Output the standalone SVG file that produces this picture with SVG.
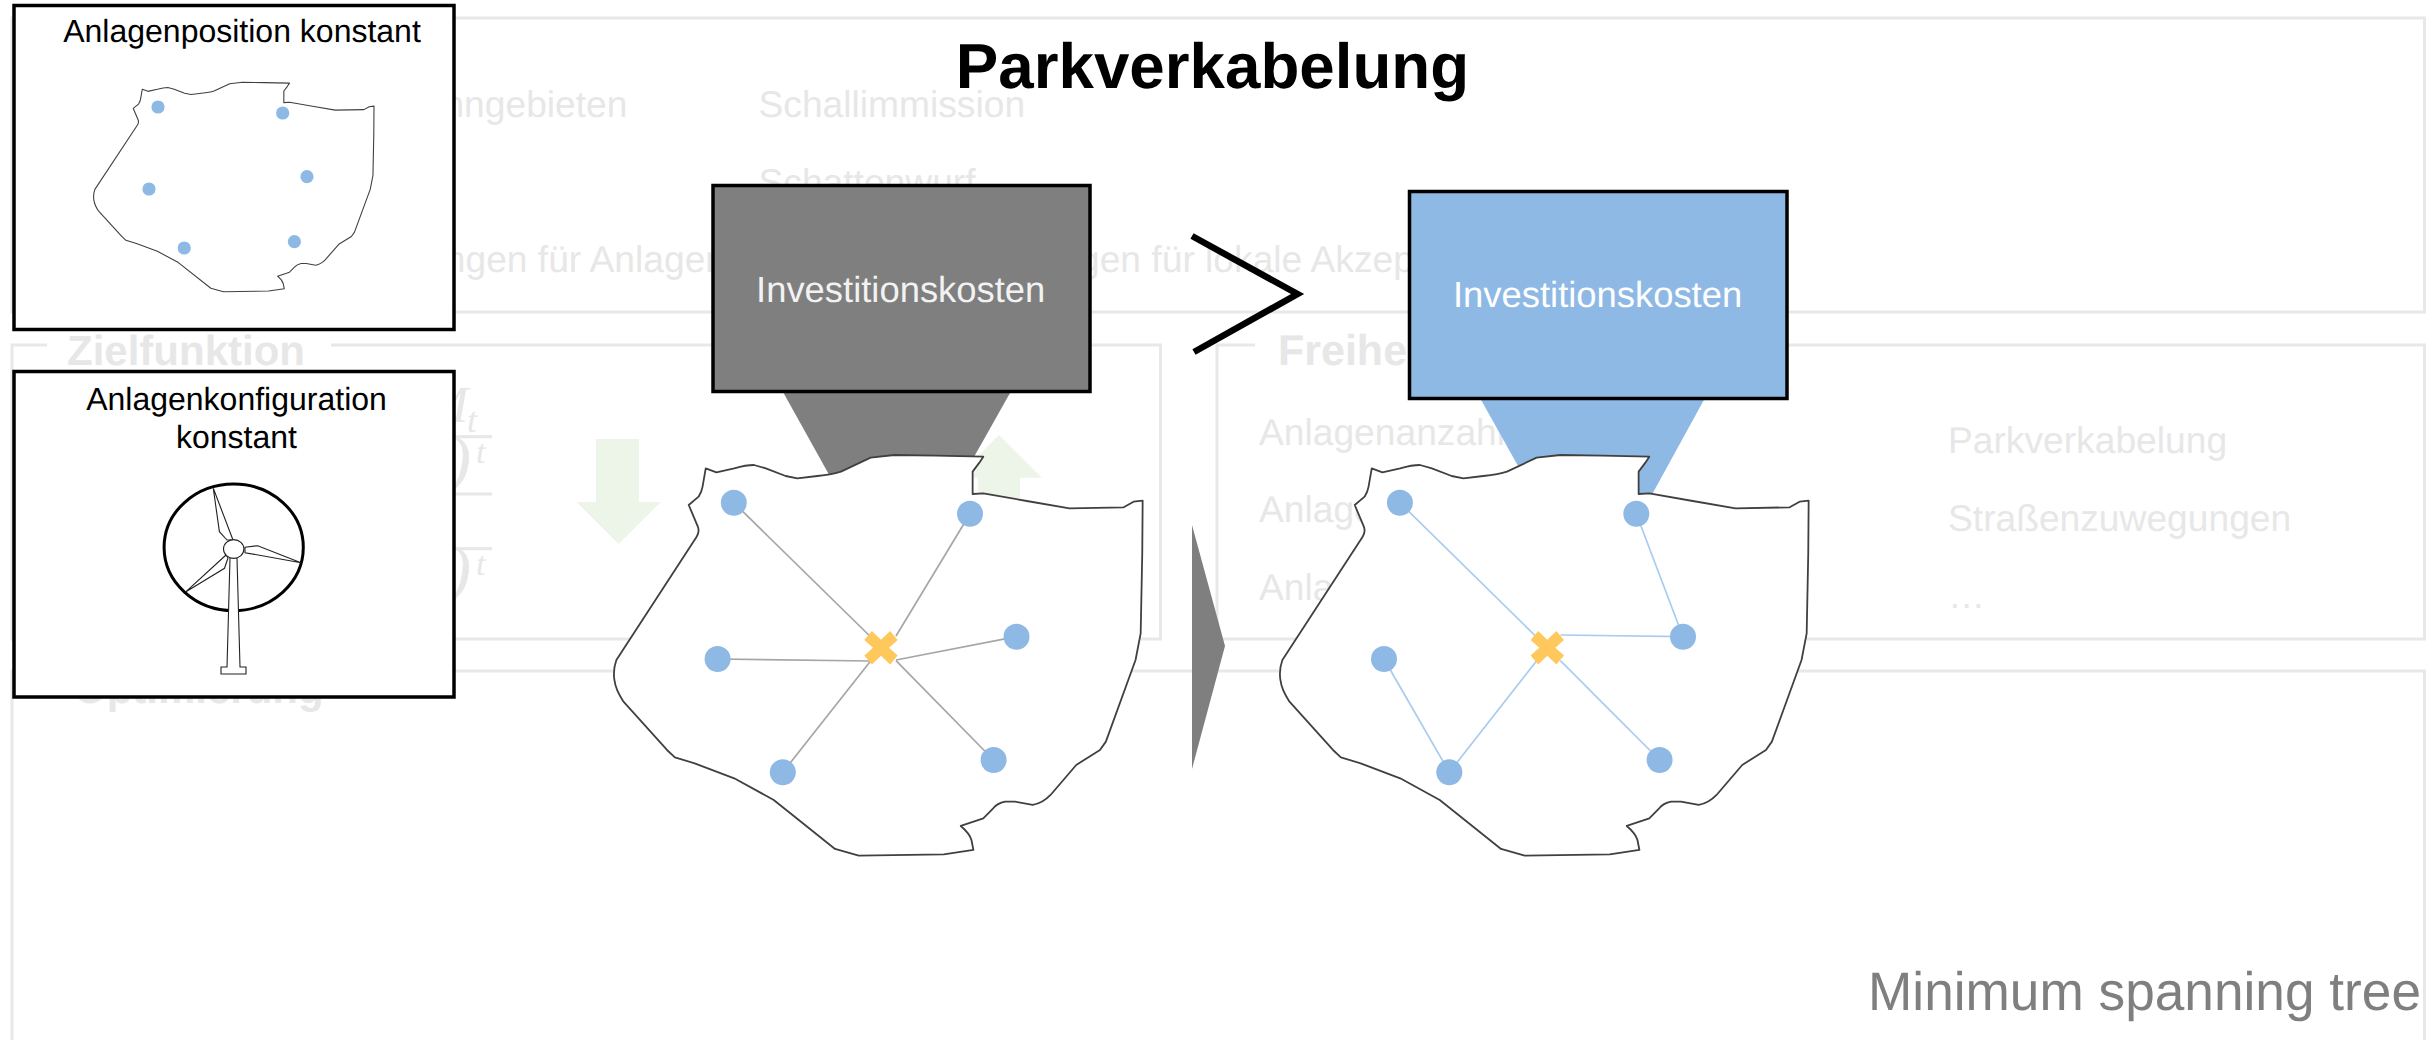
<svg xmlns="http://www.w3.org/2000/svg" xmlns:xlink="http://www.w3.org/1999/xlink" width="2435" height="1040" viewBox="0 0 2435 1040">
<style>
text{font-family:"Liberation Sans",Arial,sans-serif;text-rendering:geometricPrecision}
.bg{font-size:37.2px;fill:#E7E7E7}
.bgb{font-size:42px;font-weight:bold;fill:#E7E7E7}
.fr{fill:none;stroke:#E8E8E8;stroke-width:3}
.math{font-family:"Liberation Serif",serif;font-style:italic;fill:#E7E7E7}
.frame{fill:#fff;stroke:#000;stroke-width:3.5}
.cap{font-size:32px;fill:#000;text-anchor:middle}
.inv{font-size:36.4px;text-anchor:middle}
.map{fill:#fff;stroke:#404040;stroke-width:1.8;stroke-linejoin:round}
.sm{stroke-width:1.1}
.dot{fill:#8FB9E5}
.hub{fill:#FFC85C}
.gl{stroke:#A6A6A6;stroke-width:1.7;fill:none}
.bl{stroke:#A9CBEE;stroke-width:1.7;fill:none}
.tb{fill:#fff;stroke:#222;stroke-width:1.1}
</style>
<defs>
<path id="outline" vector-effect="non-scaling-stroke" d="M318,145 L345,157 L390,145 Q420,135 440,135 L470,145 L520,168 L550,175 L600,168 Q640,163 660,155 L735,113 L795,105 L900,107 L1020,110 L1010,128 L993,155 L993,222 L1020,220 L1130,243 L1238,265 L1375,262 L1400,245 L1423,242 L1422,400 L1418,640 L1405,720 L1330,965 L1315,990 L1255,1035 L1190,1125 Q1170,1150 1145,1155 L1100,1145 L1075,1145 Q1055,1150 1045,1165 L1020,1195 L963,1218 Q985,1240 990,1260 L995,1290 L920,1303 L705,1307 L645,1287 L490,1140 L390,1075 L290,1030 L240,1012 L220,990 L110,845 Q90,810 87,780 Q83,750 92,720 L295,350 Q303,335 298,320 L275,255 L300,230 Q308,215 310,200 Z"/>
<polygon id="hub" points="-9.1,-16.7 0,-8 9.1,-16.7 16.7,-7.7 8,0 16.7,7.7 9.1,16.7 0,8 -9.1,16.7 -16.7,7.7 -8,0 -16.7,-7.7"/>
</defs>
<rect width="2435" height="1040" fill="#fff"/>

<g id="background-panels">
<rect class="fr" x="12" y="18" width="2412.5" height="294"/>
<path class="fr" d="M47,345 H12 V639 H1160.5 V345 H331"/>
<path class="fr" d="M1255,345 H1217 V639 H2424.5 V345 H1700"/>
<path class="fr" d="M12,1045 V671 H2424.5 V1045"/>
<text class="bg" x="627.5" y="117" text-anchor="end">Wohngebieten</text>
<text class="bg" x="758.5" y="117">Schallimmission</text>
<text class="bg" x="758.5" y="195">Schattenwurf</text>
<text class="bg" x="726" y="272" text-anchor="end">Anforderungen für Anlagen</text>
<text class="bg" x="895" y="272">Anforderungen für lokale Akzeptanz</text>
<text class="bgb" x="67" y="365">Zielfunktion</text>
<text class="bgb" x="1278" y="365" style="font-size:43px">Freiheitsgrade</text>
<text class="bgb" x="74" y="703">Optimierung</text>
<text class="bg" x="1259" y="445">Anlagenanzahl</text>
<text class="bg" x="1259" y="521.7">Anlagenposition</text>
<text class="bg" x="1259" y="600">Anlagentyp</text>
<text class="bg" x="1948" y="453">Parkverkabelung</text>
<text class="bg" x="1948" y="531">Straßenzuwegungen</text>
<text class="bg" x="1948" y="608">…</text>
<text class="math" x="425" y="421.7" font-size="52">M</text>
<text class="math" x="467" y="431.6" font-size="36">t</text>
<text class="math" x="450" y="480" font-size="62" stroke="#E7E7E7" stroke-width=".6">)</text>
<text class="math" x="476" y="462.7" font-size="34">t</text>
<text class="math" x="450" y="590" font-size="62" stroke="#E7E7E7" stroke-width=".6">)</text>
<text class="math" x="476" y="575" font-size="34">t</text>
<rect x="450" y="435.2" width="42" height="3" fill="#E7E7E7"/>
<rect x="450" y="492.5" width="42" height="3" fill="#E7E7E7"/>
<rect x="450" y="547.2" width="42" height="3" fill="#E7E7E7"/>
<polygon fill="#EDF5E8" points="596,439 639,439 639,502 660.7,502 618.5,544 576.5,502 596,502"/>
<polygon fill="#EDF5E8" points="999,435 1041.8,477.7 1020,477.7 1020,540 978,540 978,477.7 956,477.7"/>
</g>

<g id="frame-position">
<rect class="frame" x="14" y="5.5" width="440" height="324"/>
<text class="cap" x="242" y="41.7">Anlagenposition konstant</text>
<use xlink:href="#outline" href="#outline" class="map sm" transform="translate(75.6,64) scale(0.2097,0.1742)"/>
<circle class="dot" cx="158" cy="107" r="6.6"/>
<circle class="dot" cx="282.7" cy="113" r="6.6"/>
<circle class="dot" cx="307" cy="176.7" r="6.6"/>
<circle class="dot" cx="294.4" cy="241.7" r="6.6"/>
<circle class="dot" cx="184.2" cy="248" r="6.6"/>
<circle class="dot" cx="149" cy="189" r="6.6"/>
</g>

<g id="frame-config">
<rect class="frame" x="14" y="371.5" width="440" height="325.5"/>
<text class="cap" x="236.5" y="410">Anlagenkonfiguration</text>
<text class="cap" x="236.5" y="448">konstant</text>
<ellipse cx="233.7" cy="547.3" rx="69.6" ry="63.3" fill="none" stroke="#000" stroke-width="3"/>
<polygon class="tb" points="230,558 237,558 240,667 246,667 246,674 221,674 221,667 227,667"/>
<polygon class="tb" points="227,540 219.4,531.7 213.3,488.3 233,540"/>
<polygon class="tb" points="245,547.3 257.7,545.7 301,562.7 245,552.7"/>
<polygon class="tb" points="226,555 186,591.7 224.5,568.3 228,558"/>
<ellipse class="tb" cx="233.7" cy="549" rx="10.2" ry="9.4"/>
</g>

<g id="title"><text x="1212.5" y="88" font-size="63.7" font-weight="bold" text-anchor="middle" fill="#000">Parkverkabelung</text></g>

<g id="cost-left">
<polygon fill="#7F7F7F" points="783,392 1010.6,392 961,480 832,480"/>
<rect x="713" y="185.5" width="377" height="206" fill="#7F7F7F" stroke="#000" stroke-width="3.5"/>
<text class="inv" x="900.7" y="301.7" fill="#F2F2F2">Investitionskosten</text>
</g>
<g id="cost-right">
<polygon fill="#8FB9E5" points="1480,398 1705,398 1649,500 1537,500"/>
<rect x="1409.5" y="191.5" width="377.5" height="207" fill="#8FB9E5" stroke="#000" stroke-width="3.5"/>
<text class="inv" x="1597.6" y="306.7" fill="#fff">Investitionskosten</text>
</g>

<g id="greater-than"><polyline points="1192,236 1297.5,294 1194,352" fill="none" stroke="#000" stroke-width="6.5"/></g>
<g id="arrow-between"><polygon fill="#7F7F7F" points="1192,525 1225,646 1192,769"/></g>

<g id="map-left"><use xlink:href="#outline" href="#outline" class="map" transform="translate(580,420) scale(0.3954,0.3333)"/></g>
<g id="map-right"><use xlink:href="#outline" href="#outline" class="map" transform="translate(1246,420) scale(0.3954,0.3333)"/></g>

<g id="connectors">
<line class="gl" x1="733.8" y1="502.7" x2="869.8" y2="636"/>
<line class="gl" x1="970" y1="513.7" x2="896" y2="636"/>
<line class="gl" x1="1016.5" y1="636.7" x2="896" y2="660"/>
<line class="gl" x1="993.6" y1="760" x2="896" y2="660.7"/>
<line class="gl" x1="782.8" y1="772.3" x2="870.6" y2="661"/>
<line class="gl" x1="717.6" y1="659" x2="870.6" y2="661"/>
<line class="bl" x1="1399.9" y1="502.7" x2="1535.5" y2="636"/>
<line class="bl" x1="1636.3" y1="513.7" x2="1683" y2="636.7"/>
<line class="bl" x1="1683" y1="636.7" x2="1560.4" y2="635"/>
<line class="bl" x1="1659.6" y1="760" x2="1560.4" y2="660.7"/>
<line class="bl" x1="1449.3" y1="772.3" x2="1536.7" y2="660.7"/>
<line class="bl" x1="1384" y1="659" x2="1449.3" y2="772.3"/>
</g>

<g id="turbines-left">
<ellipse class="dot" cx="733.8" cy="502.7" rx="13" ry="13"/>
<ellipse class="dot" cx="970" cy="513.7" rx="13" ry="13"/>
<ellipse class="dot" cx="1016.5" cy="636.7" rx="13" ry="13"/>
<ellipse class="dot" cx="993.6" cy="760" rx="13" ry="13"/>
<ellipse class="dot" cx="782.8" cy="772.3" rx="13" ry="13"/>
<ellipse class="dot" cx="717.6" cy="659" rx="13" ry="13"/>
<use xlink:href="#hub" href="#hub" class="hub" transform="translate(881,647.7)"/>
</g>
<g id="turbines-right">
<ellipse class="dot" cx="1399.9" cy="502.7" rx="13" ry="13"/>
<ellipse class="dot" cx="1636.3" cy="513.7" rx="13" ry="13"/>
<ellipse class="dot" cx="1683" cy="636.7" rx="13" ry="13"/>
<ellipse class="dot" cx="1659.6" cy="760" rx="13" ry="13"/>
<ellipse class="dot" cx="1449.3" cy="772.3" rx="13" ry="13"/>
<ellipse class="dot" cx="1384" cy="659" rx="13" ry="13"/>
<use xlink:href="#hub" href="#hub" class="hub" transform="translate(1547.3,647.7)"/>
</g>

<g id="caption"><text x="1868" y="1010" font-size="54.3" textLength="553" lengthAdjust="spacingAndGlyphs" fill="#7F7F7F">Minimum spanning tree</text></g>
</svg>
